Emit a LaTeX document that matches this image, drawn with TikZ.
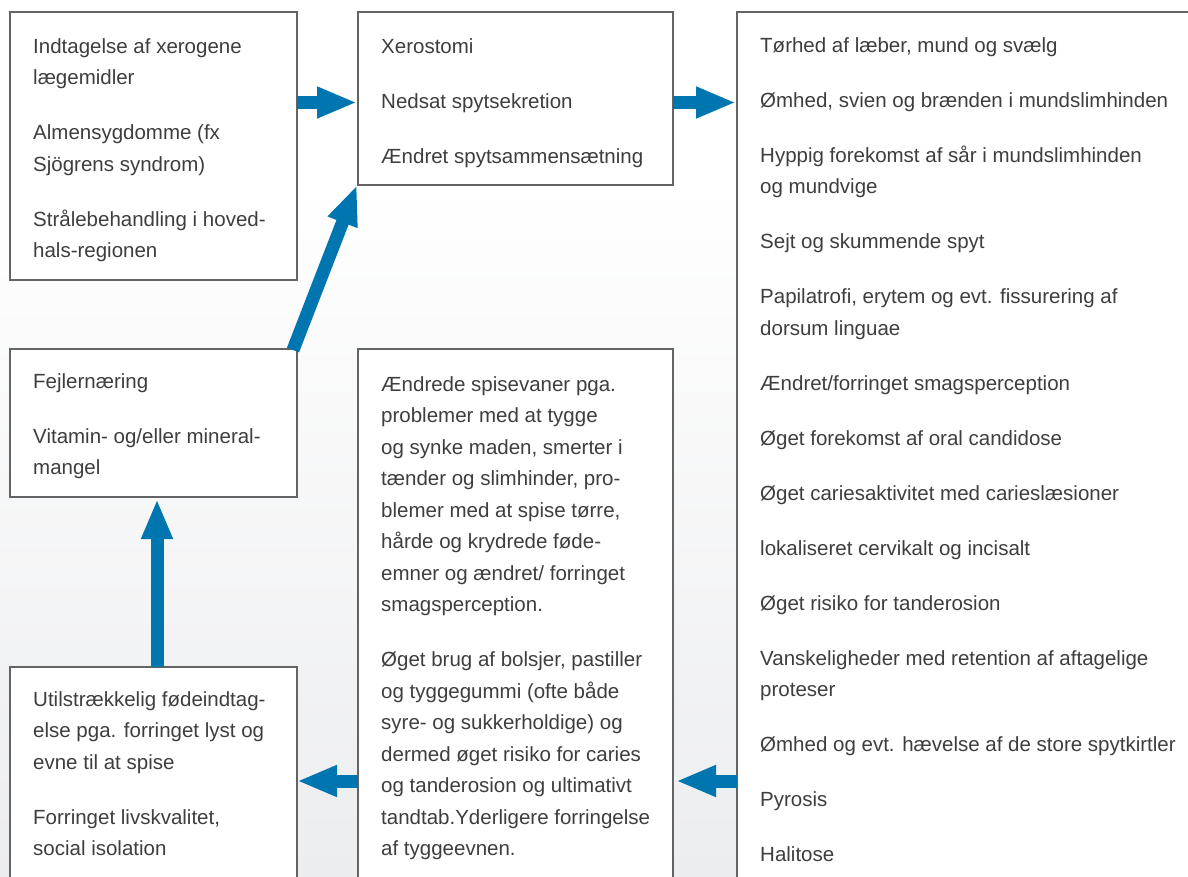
\documentclass[tikz,border=0pt]{standalone}
\usepackage{fontspec}
\setmainfont{Liberation Sans}
\usetikzlibrary{arrows.meta}
\definecolor{arrowblue}{RGB}{0,118,176}
\definecolor{boxline}{RGB}{100,100,100}
\definecolor{txt}{RGB}{62,62,62}
\definecolor{bgbot}{RGB}{236,237,239}
\newcommand{\pg}{\\[23.5pt]}
\tikzset{
  boxfill/.style={fill=white},
  boxdraw/.style={draw=boxline,line width=1.4pt},
  txtnode/.style={anchor=north west,inner sep=0pt,align=left,text=txt,
    font=\fontsize{20.5}{31.5}\selectfont},
  blockarrow/.style={draw=arrowblue,line width=13pt,
    -{Triangle[length=40pt,width=29pt,fill=arrowblue]}, shorten >=0pt}
}
\begin{document}
\begin{tikzpicture}[x=1pt,y=-1pt]
\useasboundingbox (0,0) rectangle (1188,877);
% background
\fill[white] (0,0) rectangle (1188,877);
\shade[top color=white,bottom color=bgbot] (0,180) rectangle (1188,877);
% boxes
\fill[boxfill] (10,12) rectangle (297,280);
\draw[boxdraw] (10,12) rectangle (297,280);
\fill[boxfill] (358,12) rectangle (673,185);
\draw[boxdraw] (358,12) rectangle (673,185);
\fill[boxfill] (737,12) rectangle (1188,880);
\draw[boxdraw] (1190,12) -- (737,12) -- (737,880);
\fill[boxfill] (10,349) rectangle (297,497);
\draw[boxdraw] (10,349) rectangle (297,497);
\fill[boxfill] (358,349) rectangle (673,880);
\draw[boxdraw] (358,880) -- (358,349) -- (673,349) -- (673,880);
\fill[boxfill] (10,667) rectangle (297,880);
\draw[boxdraw] (10,880) -- (10,667) -- (297,667) -- (297,880);
% texts
\node[txtnode] (ta) at (33,31) {\strut Indtagelse af xerogene\\lægemidler\pg
Almensygdomme (fx\\Sjögrens syndrom)\pg
Strålebehandling i hoved-\\hals-regionen};
\node[txtnode] (tb) at (381,31) {\strut Xerostomi\pg Nedsat spytsekretion\pg Ændret spytsammensætning};
\node[txtnode] (tc) at (760,30) {\strut Tørhed af læber, mund og svælg\pg
Ømhed, svien og brænden i mundslimhinden\pg
Hyppig forekomst af sår i mundslimhinden\\og mundvige\pg
Sejt og skummende spyt\pg
Papilatrofi, erytem og evt. fissurering af\\dorsum linguae\pg
Ændret/forringet smagsperception\pg
Øget forekomst af oral candidose\pg
Øget cariesaktivitet med carieslæsioner\pg
lokaliseret cervikalt og incisalt\pg
Øget risiko for tanderosion\pg
Vanskeligheder med retention af aftagelige\\proteser\pg
Ømhed og evt. hævelse af de store spytkirtler\pg
Pyrosis\pg
Halitose};
\node[txtnode] (td) at (33,366) {\strut Fejlernæring\pg Vitamin- og/eller mineral-\\mangel};
\node[txtnode] (te) at (381,369) {\strut Ændrede spisevaner pga.\\problemer med at tygge\\og synke maden, smerter i\\tænder og slimhinder, pro-\\blemer med at spise tørre,\\hårde og krydrede føde-\\emner og ændret/ forringet\\smagsperception.\pg
Øget brug af bolsjer, pastiller\\og tyggegummi (ofte både\\syre- og sukkerholdige) og\\dermed øget risiko for caries\\og tanderosion og ultimativt\\tandtab.Yderligere forringelse\\af tyggeevnen.};
\node[txtnode] (tf) at (33,684) {\strut Utilstrækkelig fødeindtag-\\else pga. forringet lyst og\\evne til at spise\pg Forringet livskvalitet,\\social isolation};
% arrow end points
\coordinate (a1s) at (297,102.5);
\coordinate (a1e) at (357,102.5);
\coordinate (a2s) at (673,102.5);
\coordinate (a2e) at (736,102.5);
\coordinate (a3s) at (293,350);
\coordinate (a3e) at (357,185);
\coordinate (a4s) at (157,667);
\coordinate (a4e) at (157,499);
\coordinate (a5s) at (358,781);
\coordinate (a5e) at (297,781);
\coordinate (a6s) at (737,781);
\coordinate (a6e) at (676,781);
\draw[blockarrow] (a1s) -- (a1e);
\draw[blockarrow] (a2s) -- (a2e);
\draw[blockarrow] (a3s) -- (a3e);
\draw[blockarrow] (a4s) -- (a4e);
\draw[blockarrow] (a5s) -- (a5e);
\draw[blockarrow] (a6s) -- (a6e);
\end{tikzpicture}
\end{document}
